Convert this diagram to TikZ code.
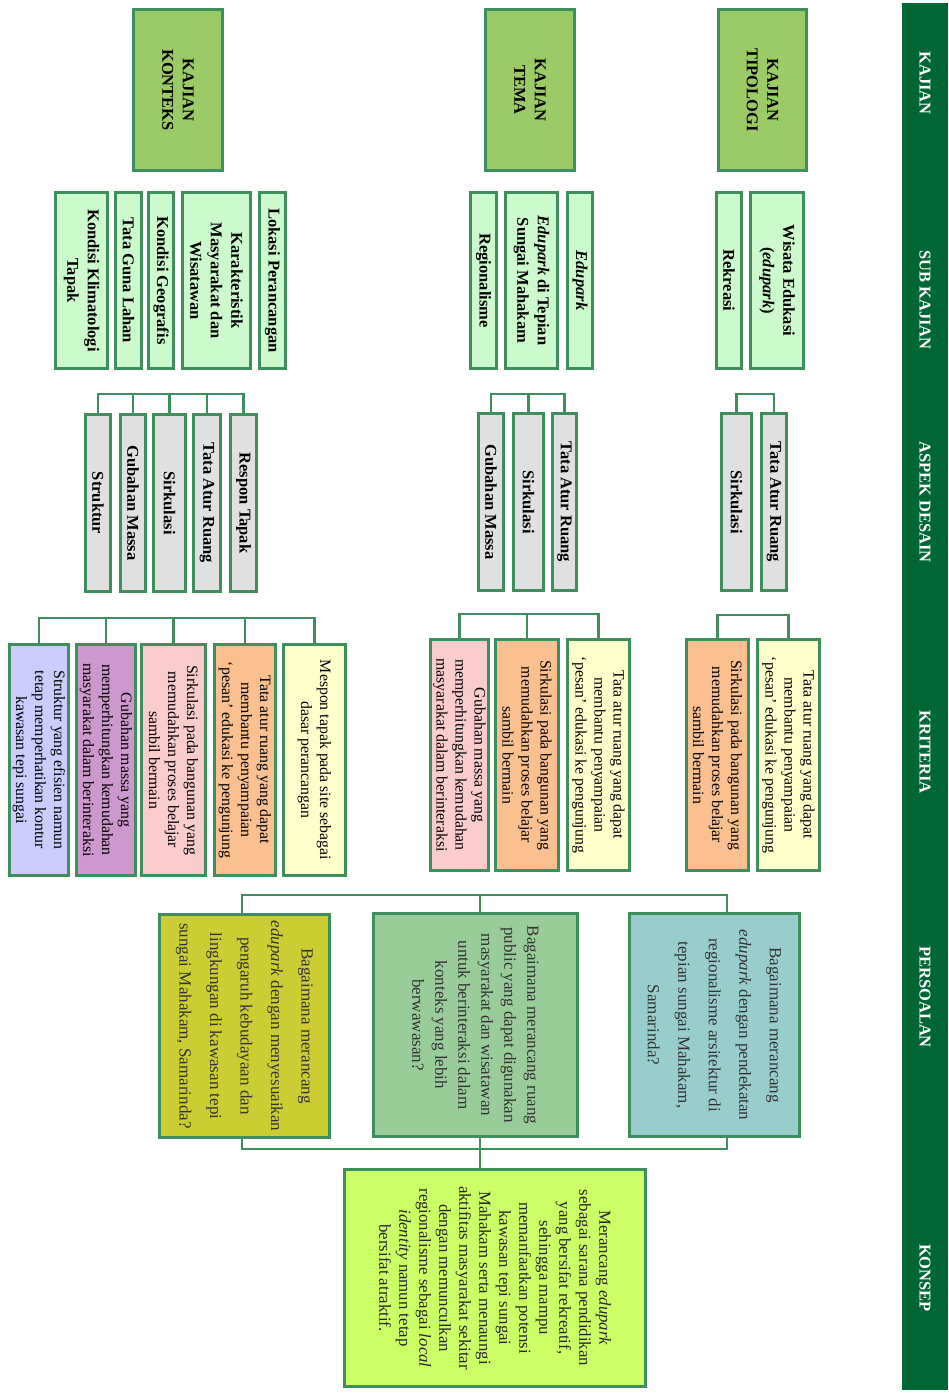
\documentclass[tikz,border=0pt]{standalone}
\usepackage{fontspec}
\setmainfont{Liberation Serif}
\definecolor{bord}{RGB}{62,142,94}
\definecolor{band}{RGB}{0,102,51}
\definecolor{cKaj}{RGB}{155,203,103}
\definecolor{cSub}{RGB}{204,250,204}
\definecolor{cAsp}{RGB}{224,224,224}
\definecolor{cYel}{RGB}{255,255,204}
\definecolor{cOra}{RGB}{250,192,144}
\definecolor{cPnk}{RGB}{250,204,204}
\definecolor{cPur}{RGB}{204,153,204}
\definecolor{cLav}{RGB}{204,204,255}
\definecolor{cTea}{RGB}{153,204,204}
\definecolor{cSag}{RGB}{153,204,153}
\definecolor{cOli}{RGB}{204,204,51}
\definecolor{cLim}{RGB}{204,255,102}
\tikzset{
  bx/.style={draw=bord,line width=2.6pt,rotate=-90,inner sep=0pt,align=center,text=black},
  kaj/.style={bx,fill=cKaj,font=\fontsize{16.5}{20.5}\selectfont\bfseries},
  sub/.style={bx,fill=cSub,font=\fontsize{16.5}{20.5}\selectfont\bfseries},
  asp/.style={bx,fill=cAsp,font=\fontsize{16.5}{20.5}\selectfont\bfseries},
  krit/.style={bx,font=\fontsize{15.8}{19}\selectfont},
  pers/.style={bx,font=\fontsize{17}{30.5}\selectfont,text=black!80},
  kons/.style={bx,fill=cLim,font=\fontsize{16.8}{20}\selectfont,text=black!85},
  hdr/.style={rotate=-90,text=white,font=\fontsize{16.5}{20}\selectfont\bfseries,inner sep=0pt},
  conn/.style={draw=bord,line width=2.6pt}
}
\newcommand\mkbox[7]{\node[#2,minimum width={(#6)-(#5)-2.6},minimum height={(#4)-(#3)-2.6}] (#1) at ({((#3)+(#4))/2},{((#5)+(#6))/2}) {#7};}
\begin{document}
\begin{tikzpicture}[x=1pt,y=-1pt]
\useasboundingbox (0,0) rectangle (949,1393);
% header band
\fill[band] (902,3) rectangle (948,1390);
\node[hdr] (h1) at (925,83) {KAJIAN};
\node[hdr] (h2) at (925,300) {SUB KAJIAN};
\node[hdr] (h3) at (925,502) {ASPEK DESAIN};
\node[hdr] (h4) at (925,752) {KRITERIA};
\node[hdr] (h5) at (925,997) {PERSOALAN};
\node[hdr] (h6) at (925,1278) {KONSEP};
% kajian
\mkbox{kt}{kaj}{717}{808}{8}{172}{KAJIAN\\TIPOLOGI}
\mkbox{km}{kaj}{484}{576}{8}{172}{KAJIAN\\TEMA}
\mkbox{kk}{kaj}{132}{224}{8}{172}{KAJIAN\\KONTEKS}
% sub kajian
\mkbox{s1}{sub}{749}{805}{191}{370}{Wisata Edukasi\\(\textit{edupark})}
\mkbox{s2}{sub}{715}{743}{191}{370}{Rekreasi}
\mkbox{s3}{sub}{566}{594}{191}{370}{\textit{Edupark}}
\mkbox{s4}{sub}{504}{559}{191}{370}{\textit{Edupark} di Tepian\\Sungai Mahakam}
\mkbox{s5}{sub}{469}{498}{191}{370}{Regionalisme}
\mkbox{s6}{sub}{258}{287}{191}{370}{Lokasi Perancangan}
\mkbox{s7}{sub}{181}{252}{191}{370}{Karakteristik\\Masyarakat dan\\Wisatawan}
\mkbox{s8}{sub}{147}{175}{191}{370}{Kondisi Geografis}
\mkbox{s9}{sub}{114}{143}{191}{370}{Tata Guna Lahan}
\mkbox{s10}{sub}{54}{109}{191}{370}{Kondisi Klimatologi\\Tapak}
% aspek desain
\mkbox{a1}{asp}{760}{788}{412}{592}{Tata Atur Ruang}
\mkbox{a2}{asp}{720}{753}{412}{592}{Sirkulasi}
\mkbox{a3}{asp}{551}{578}{412}{592}{Tata Atur Ruang}
\mkbox{a4}{asp}{512}{545}{412}{592}{Sirkulasi}
\mkbox{a5}{asp}{477}{505}{412}{592}{Gubahan Massa}
\mkbox{a6}{asp}{229}{258}{413}{593}{Respon Tapak}
\mkbox{a7}{asp}{192}{222}{413}{593}{Tata Atur Ruang}
\mkbox{a8}{asp}{152}{187}{413}{593}{Sirkulasi}
\mkbox{a9}{asp}{119}{147}{413}{593}{Gubahan Massa}
\mkbox{a10}{asp}{84}{112}{413}{593}{Struktur}
% kriteria
\mkbox{k1}{krit,fill=cYel}{756}{821}{638}{872}{Tata atur ruang yang dapat\\membantu penyampaian\\‘pesan’ edukasi ke pengunjung}
\mkbox{k2}{krit,fill=cOra}{685}{750}{638}{872}{Sirkulasi pada bangunan yang\\memudahkan proses belajar\\sambil bermain}
\mkbox{k3}{krit,fill=cYel}{566}{631}{638}{872}{Tata atur ruang yang dapat\\membantu penyampaian\\‘pesan’ edukasi ke pengunjung}
\mkbox{k4}{krit,fill=cOra}{494}{560}{638}{872}{Sirkulasi pada bangunan yang\\memudahkan proses belajar\\sambil bermain}
\mkbox{k5}{krit,fill=cPnk}{429}{490}{638}{872}{Gubahan massa yang\\memperhitungkan kemudahan\\masyarakat dalam berinteraksi}
\mkbox{k6}{krit,fill=cYel}{282}{347}{643}{877}{Mespon tapak pada site sebagai\\dasar perancangan}
\mkbox{k7}{krit,fill=cOra}{213}{277}{643}{877}{Tata atur ruang yang dapat\\membantu penyampaian\\‘pesan’ edukasi ke pengunjung}
\mkbox{k8}{krit,fill=cPnk}{140}{207}{643}{877}{Sirkulasi pada bangunan yang\\memudahkan proses belajar\\sambil bermain}
\mkbox{k9}{krit,fill=cPur}{75}{137}{643}{877}{Gubahan massa yang\\memperhitungkan kemudahan\\masyarakat dalam berinteraksi}
\mkbox{k10}{krit,fill=cLav}{8}{70}{643}{877}{Struktur yang efisien namun\\tetap memperhatikan kontur\\kawasan tepi sungai}
% persoalan
\mkbox{p1}{pers,fill=cTea}{628}{801}{912}{1138}{Bagaimana merancang\\\textit{edupark} dengan pendekatan\\regionalisme arsitektur di\\tepian sungai Mahakam,\\Samarinda?}
\mkbox{p2}{pers,fill=cSag,font=\fontsize{17}{23}\selectfont}{372}{579}{912}{1138}{Bagaimana merancang ruang\\public yang dapat digunakan\\masyarakat dan wisatawan\\untuk berinteraksi dalam\\konteks yang lebih\\berwawasan?}
\mkbox{p3}{pers,fill=cOli}{158}{331}{913}{1139}{Bagaimana merancang\\\textit{edupark} dengan menyesuaikan\\pengaruh kebudayaan dan\\lingkungan di kawasan tepi\\sungai Mahakam, Samarinda?}
% konsep
\mkbox{ks}{kons}{343}{647}{1168}{1388}{Merancang \textit{edupark}\\sebagai sarana pendidikan\\yang bersifat rekreatif,\\sehingga mampu\\memanfaatkan potensi\\kawasan tepi sungai\\Mahakam serta menaungi\\aktifitas masyarakat sekitar\\dengan memunculkan\\regionalisme sebagai \textit{local}\\\textit{identity} namun tetap\\bersifat atraktif.}
% bracket levels
\coordinate (yA) at (0,394);
\coordinate (yKt) at (0,615);
\coordinate (yKm) at (0,614);
\coordinate (yKk) at (0,618);
\coordinate (yPt) at (0,895);
\coordinate (yPb) at (0,1149);
\coordinate (d1) at (727,0);
\coordinate (d2) at (480,0);
\coordinate (d3) at (242,0);
% aspek brackets
\draw[conn] (a1.west) -- (a1.west |- yA) -- (a2.west |- yA) -- (a2.west);
\draw[conn] (a3.west) -- (a3.west |- yA) -- (a5.west |- yA) -- (a5.west);
\draw[conn] (a4.west) -- (a4.west |- yA);
\draw[conn] (a6.west) -- (a6.west |- yA) -- (a10.west |- yA) -- (a10.west);
\draw[conn] (a7.west) -- (a7.west |- yA);
\draw[conn] (a8.west) -- (a8.west |- yA);
\draw[conn] (a9.west) -- (a9.west |- yA);
% kriteria brackets
\draw[conn] (k1.west) -- (k1.west |- yKt) -- (k2.west |- yKt) -- (k2.west);
\draw[conn] (k3.west) -- (k3.west |- yKm) -- (k5.west |- yKm) -- (k5.west);
\draw[conn] (k4.west) -- (k4.west |- yKm);
\draw[conn] (k6.west) -- (k6.west |- yKk) -- (k10.west |- yKk) -- (k10.west);
\draw[conn] (k7.west) -- (k7.west |- yKk);
\draw[conn] (k8.west) -- (k8.west |- yKk);
\draw[conn] (k9.west) -- (k9.west |- yKk);
% persoalan brackets
\draw[conn] (p1.west -| d1) -- (yPt -| d1) -- (yPt -| d3) -- (p3.west -| d3);
\draw[conn] (p2.west -| d2) -- (yPt -| d2);
\draw[conn] (p1.east -| d1) -- (yPb -| d1) -- (yPb -| d3) -- (p3.east -| d3);
\draw[conn] (p2.east -| d2) -- (ks.west -| d2);
\end{tikzpicture}
\end{document}
